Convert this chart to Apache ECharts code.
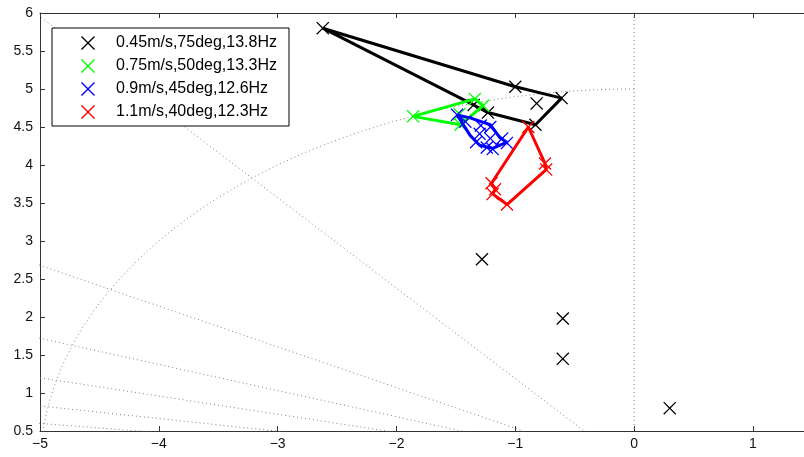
<!DOCTYPE html>
<html>
<head>
<meta charset="utf-8">
<script src="https://cdn.jsdelivr.net/npm/echarts@6/dist/echarts.min.js"></script>
<style>
html,body{margin:0;padding:0;background:#fff;}
#chart{width:804px;height:457px;}
</style>
</head>
<body>
<div id="chart"></div>
<script>
// ---- data ----
const seriesNames = ['0.45m/s,75deg,13.8Hz', '0.75m/s,50deg,13.3Hz', '0.9m/s,45deg,12.6Hz', '1.1m/s,40deg,12.3Hz'];
const seriesColors = ['#000000', '#00ff00', '#0000ff', '#ff0000'];

const blackMarkers = [[-2.62,5.80],[-1.00,5.03],[-0.61,4.88],[-0.82,4.81],[-0.83,4.53],[-1.23,4.69],[-1.35,4.79],[-1.28,2.76],[-0.60,1.98],[-0.60,1.45],[0.30,0.80]];
const blackPath = [[-2.62,5.80],[-1.00,5.03],[-0.61,4.88],[-0.83,4.53],[-1.23,4.69],[-1.35,4.79],[-2.62,5.80]];

const greenMarkers = [[-1.86,4.64],[-1.34,4.87],[-1.27,4.78],[-1.46,4.53],[-1.47,4.67]];
const greenPath = [[-1.86,4.64],[-1.34,4.87],[-1.27,4.78],[-1.46,4.53],[-1.86,4.64]];

const blueMarkers = [[-1.49,4.66],[-1.42,4.57],[-1.29,4.52],[-1.21,4.50],[-1.30,4.41],[-1.21,4.35],[-1.11,4.35],[-1.33,4.30],[-1.24,4.23],[-1.07,4.29],[-1.19,4.21]];
const bluePath = [[-1.49,4.66],[-1.38,4.62],[-1.21,4.53],[-1.13,4.36],[-1.07,4.30],[-1.19,4.22],[-1.30,4.26],[-1.38,4.39],[-1.49,4.66]];

const redMarkers = [[-0.89,4.50],[-0.75,4.02],[-0.74,3.94],[-1.07,3.48],[-1.19,3.62],[-1.17,3.68],[-1.20,3.76]];
const redPath = [[-0.89,4.50],[-0.75,4.02],[-0.74,3.94],[-1.07,3.48],[-1.19,3.62],[-1.17,3.68],[-1.20,3.76],[-0.89,4.50]];

// s-plane grid (constant damping rays as slopes, constant natural frequency radius)
const dampingSlopes = [0.12, 0.166, 0.24, 0.344, 0.536, 1.19];
const naturalFreqRadii = [5];

const xTicks = [-5, -4, -3, -2, -1, 0, 1];
const yTicks = [0.5, 1, 1.5, 2, 2.5, 3, 3.5, 4, 4.5, 5, 5.5, 6];

// ---- build ----
const markerPaths = [blackMarkers, greenMarkers, blueMarkers, redMarkers];
const linePaths = [blackPath, greenPath, bluePath, redPath];

const xSymbol = 'path://M0.7,0 L5,4.3 L9.3,0 L10,0.7 L5.7,5 L10,9.3 L9.3,10 L5,5.7 L0.7,10 L0,9.3 L4.3,5 L0,0.7 Z';

const gridStyle = { color: '#808080', width: 1, type: [1, 3] };
const series = [];

dampingSlopes.forEach((k, i) => {
  series.push({
    type: 'line', name: 'ray' + i, silent: true, showSymbol: false, z: 1,
    lineStyle: gridStyle, data: [[0, 0], [-10, 10 * k]], animation: false
  });
});
series.push({
  type: 'line', name: 'ray-v', silent: true, showSymbol: false, z: 1,
  lineStyle: gridStyle, data: [[0, 0], [0, 10]], animation: false
});
naturalFreqRadii.forEach((r, i) => {
  const pts = [];
  for (let a = 90; a <= 180; a += 0.5) {
    const t = a * Math.PI / 180;
    pts.push([r * Math.cos(t), r * Math.sin(t)]);
  }
  series.push({
    type: 'line', name: 'arc' + i, silent: true, showSymbol: false, z: 1,
    lineStyle: gridStyle, data: pts, animation: false
  });
});

linePaths.forEach((p, i) => {
  series.push({
    type: 'line', name: 'path' + i, showSymbol: false, z: 3 + i,
    lineStyle: { color: seriesColors[i], width: 3 },
    itemStyle: { color: seriesColors[i] },
    data: p, animation: false
  });
});
markerPaths.forEach((m, i) => {
  series.push({
    type: 'scatter', name: seriesNames[i], symbol: xSymbol, symbolSize: 13, z: 3 + i,
    itemStyle: { color: seriesColors[i], opacity: 1 },
    data: m, animation: false
  });
});

const chart = echarts.init(document.getElementById('chart'), null, { renderer: 'canvas' });
const fmtMinus = v => String(v).replace('-', '\u2212');
chart.setOption({
  animation: false,
  backgroundColor: '#ffffff',
  textStyle: { fontFamily: 'Liberation Sans, Arial, sans-serif' },
  grid: { left: 40, top: 13, right: 0, bottom: 26, containLabel: false },
  legend: {
    data: seriesNames,
    orient: 'vertical',
    left: 52, top: 28,
    padding: [7, 12, 6, 29],
    itemWidth: 14, itemHeight: 14, itemGap: 7,
    backgroundColor: '#ffffff',
    borderColor: '#000000', borderWidth: 1, borderRadius: 0,
    selectedMode: false,
    textStyle: { fontSize: 16, color: '#000', lineHeight: 14, padding: [0, 0, 0, 16], fontFamily: 'Liberation Sans, Arial, sans-serif' }
  },
  xAxis: [{
    type: 'value', min: -5, max: 1.43, interval: 1, position: 'bottom',
    axisLine: { onZero: false, lineStyle: { color: '#333', width: 1 } },
    axisTick: { inside: true, length: 5, lineStyle: { color: '#333' } },
    splitLine: { show: false },
    axisLabel: { fontSize: 14, color: '#111', margin: 6, formatter: fmtMinus, showMaxLabel: false }
  }, {
    type: 'value', min: -5, max: 1.43, interval: 1, position: 'top',
    axisLine: { onZero: false, lineStyle: { color: '#333', width: 1 } },
    axisTick: { inside: true, length: 5, lineStyle: { color: '#333' } },
    splitLine: { show: false },
    axisLabel: { show: false }
  }],
  yAxis: {
    type: 'value', min: 0.5, max: 6, interval: 0.5,
    axisLine: { show: true, onZero: false, lineStyle: { color: '#333', width: 1 } },
    axisTick: { show: true, inside: true, length: 5, lineStyle: { color: '#333' } },
    splitLine: { show: false },
    axisLabel: { fontSize: 14, color: '#111', margin: 7 }
  },
  series: series
});
</script>
</body>
</html>
